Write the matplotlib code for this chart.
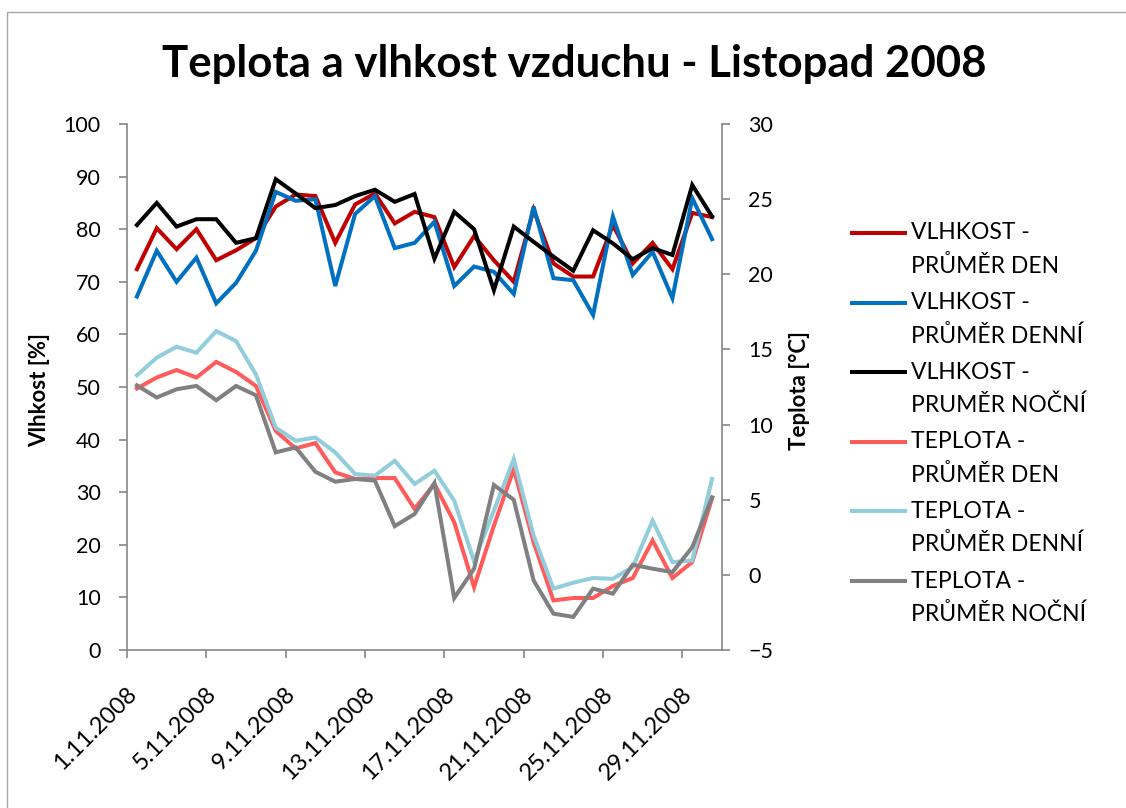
import numpy as np
import matplotlib
matplotlib.use("Agg")
import matplotlib.pyplot as plt
import matplotlib.transforms as mtransforms
from matplotlib.lines import Line2D

plt.rcParams['font.family'] = ['Lato', 'DejaVu Sans']

# values, 1.11.2008 - 30.11.2008
days = [f"{d}.11.2008" for d in range(1, 31)]

vlhkost_den = [72.4, 80.2, 76.2, 80.0, 74.1, 76.0, 78.3, 84.3, 86.6, 86.3,
               77.4, 84.7, 86.8, 81.1, 83.3, 82.3, 72.8, 78.7, 74.1, 70.0,
               83.7, 73.5, 71.0, 71.0, 80.8, 73.5, 77.4, 72.4, 83.1, 82.3]
vlhkost_denni = [67.2, 75.9, 70.0, 74.6, 65.9, 69.8, 75.9, 87.1, 85.4, 85.7,
                 69.2, 82.9, 86.3, 76.4, 77.4, 81.4, 69.2, 72.9, 71.9, 67.7,
                 84.3, 70.7, 70.3, 63.7, 82.4, 71.3, 75.7, 66.9, 85.9, 78.1]
vlhkost_nocni = [80.8, 85.0, 80.5, 81.9, 81.9, 77.4, 78.3, 89.5, 86.8, 84.0,
                 84.6, 86.3, 87.5, 85.2, 86.7, 74.4, 83.3, 80.0, 68.4, 80.5,
                 77.6, 74.8, 72.1, 79.8, 77.3, 74.3, 76.4, 75.1, 88.4, 82.4]

teplota_den = [12.40, 13.13, 13.63, 13.13, 14.17, 13.50, 12.57, 9.58, 8.41, 8.77,
               6.82, 6.38, 6.44, 6.44, 4.39, 6.05, 3.50, -0.82, 3.28, 7.04,
               2.18, -1.70, -1.54, -1.54, -0.74, -0.21, 2.29, -0.21, 0.85, 5.10]
teplota_denni = [13.28, 14.45, 15.18, 14.78, 16.22, 15.55, 13.34, 9.80, 8.92, 9.14,
                 8.15, 6.71, 6.60, 7.59, 6.05, 6.93, 4.93, 0.89, 4.28, 7.70,
                 2.62, -0.92, -0.52, -0.21, -0.26, 0.52, 3.61, 0.85, 0.96, 6.38]
teplota_nocni = [12.61, 11.80, 12.35, 12.57, 11.62, 12.57, 11.95, 8.15, 8.48, 6.86,
                 6.20, 6.38, 6.27, 3.24, 4.05, 6.11, -1.54, 0.41, 5.98, 5.00,
                 -0.37, -2.58, -2.80, -0.92, -1.25, 0.67, 0.41, 0.18, 1.84, 5.16]

names = ["VLHKOST -\nPRŮMĚR DEN", "VLHKOST -\nPRŮMĚR DENNÍ", "VLHKOST -\nPRUMĚR NOČNÍ",
         "TEPLOTA -\nPRŮMĚR DEN", "TEPLOTA -\nPRŮMĚR DENNÍ", "TEPLOTA -\nPRŮMĚR NOČNÍ"]
colors = ["#C00000", "#0070C0", "#000000", "#FF5B5B", "#92CDDC", "#808080"]

W, H = 1126, 808
axis_gray = "#868686"

fig = plt.figure(figsize=(W / 100, H / 100), dpi=100)
ax = fig.add_axes([127 / W, 1 - 650 / H, (722 - 127) / W, (650 - 124) / H])
ax2 = ax.twinx()

x = np.arange(len(days))
lw = 2.9
for vals, c in zip([vlhkost_den, vlhkost_denni, vlhkost_nocni], colors[:3]):
    ax.plot(x, vals, color=c, lw=lw, solid_joinstyle='miter')
for vals, c in zip([teplota_den, teplota_denni, teplota_nocni], colors[3:]):
    ax2.plot(x, vals, color=c, lw=lw, solid_joinstyle='miter')

ax.set_xlim(-0.5, len(days) - 0.5)
ax.set_ylim(0, 100)
ax2.set_ylim(-5, 30)
ax.set_yticks(range(0, 101, 10))
ax2.set_yticks(range(-5, 31, 5))

# tick marks between categories, labels at every 4th day
ax.set_xticks(np.arange(-0.5, len(days) - 1, 4))
ax.set_xticklabels([])
ax.set_xticks(x[::4], minor=True)
ax.set_xticklabels(days[::4], minor=True, rotation=45, ha='right', va='top',
                   fontsize=17)
ax.tick_params(axis='x', which='minor', length=0, pad=24)
ax.tick_params(axis='x', which='major', direction='out', length=6,
               width=1.2, color=axis_gray)
shift = mtransforms.ScaledTranslation(4 / 100, 0, fig.dpi_scale_trans)
for lab in ax.get_xticklabels(minor=True):
    lab.set_transform(lab.get_transform() + shift)
ax.tick_params(axis='y', direction='out', length=6, width=1.2, color=axis_gray,
               pad=13, labelsize=15.5)
ax2.tick_params(axis='y', direction='out', length=6, width=1.2, color=axis_gray,
                pad=13, labelsize=15.5)

for a in (ax, ax2):
    a.spines['top'].set_visible(False)
    for s in ('left', 'right', 'bottom'):
        a.spines[s].set_color(axis_gray)
        a.spines[s].set_linewidth(1.2)
ax.spines['right'].set_visible(False)
ax2.spines['left'].set_visible(False)
ax2.spines['bottom'].set_visible(False)

fig.text(40 / W, 1 - 390 / H, "Vlhkost [%]", rotation=90, ha='center', va='center',
         fontsize=16, fontweight='bold')
fig.text(800 / W, 1 - 390 / H, "Teplota [°C]", rotation=90, ha='center', va='center',
         fontsize=16, fontweight='bold')

fig.text(574 / W, 1 - 64 / H, "Teplota a vlhkost vzduchu - Listopad 2008",
         ha='center', va='center', fontsize=31.5, fontweight='bold')

# legend drawn by hand so the key line sits at the first text row
for i, (name, c) in enumerate(zip(names, colors)):
    y = 1 - (233 + 69.6 * i) / H
    fig.add_artist(Line2D([852 / W, 905 / W], [y, y], color=c, lw=lw,
                          transform=fig.transFigure))
    first, second = name.split("\n")
    fig.text(911 / W, y, first, ha='left', va='center', fontsize=16.5)
    fig.text(911 / W, y - 33 / H, second, ha='left', va='center', fontsize=16.5)

# chart area border (only left and top edges are in frame)
fig.add_artist(Line2D([7 / W, 7 / W, 1], [0, 1 - 12 / H, 1 - 12 / H],
                      color="#A6A6A6", lw=1.0, transform=fig.transFigure))

fig.savefig("out.png", dpi=100)
